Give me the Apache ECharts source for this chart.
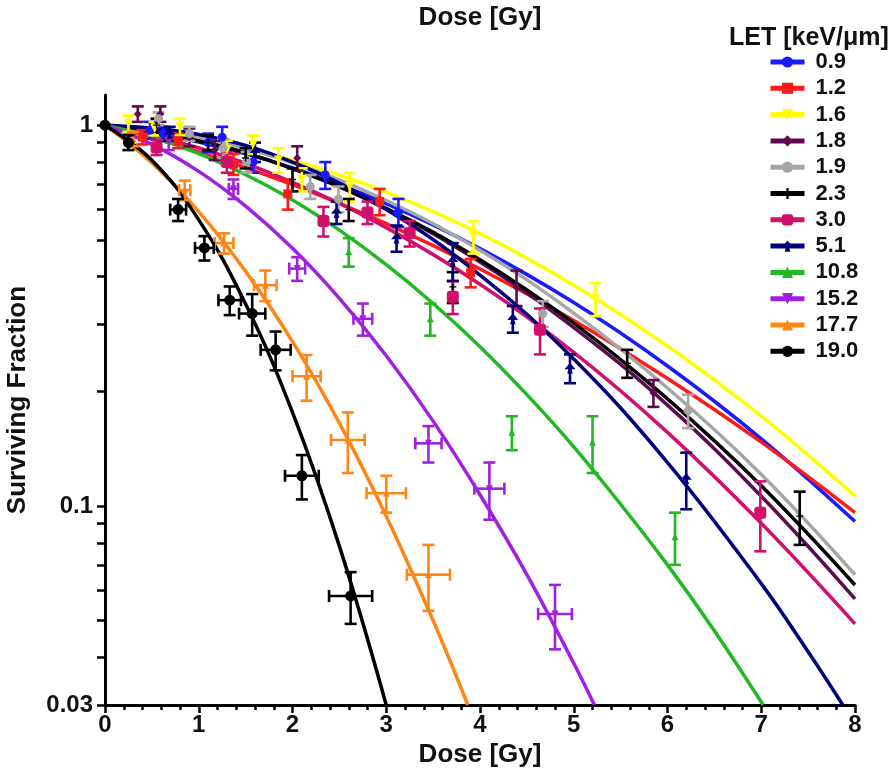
<!DOCTYPE html>
<html>
<head>
<meta charset="utf-8">
<script src="https://cdn.jsdelivr.net/npm/echarts@6/dist/echarts.min.js"></script>
<style>
  html, body { margin: 0; padding: 0; background: #ffffff; }
  #chart { width: 890px; height: 772px; }
</style>
</head>
<body>
<div id="chart"></div>
<script>
// LET groups (keV/µm)
const letNames = ['0.9', '1.2', '1.6', '1.8', '1.9', '2.3', '3.0', '5.1', '10.8', '15.2', '17.7', '19.0'];

// Tick labels
const xTickValues = [0, 1, 2, 3, 4, 5, 6, 7, 8];
const yLabelValues = [0.03, 0.1, 1];
const yTickValues = [0.03, 0.04, 0.05, 0.06, 0.07, 0.08, 0.09, 0.1, 0.2, 0.3, 0.4, 0.5, 0.6, 0.7, 0.8, 0.9, 1];

// Fitted survival curves: dose [Gy] and surviving fraction
const doseFull = [0, 1, 2, 3, 4, 5, 6, 7, 8];
const fit09 = [1, 0.903, 0.772, 0.622, 0.474, 0.342, 0.233, 0.150, 0.091];
const fit12 = [1, 0.851, 0.698, 0.551, 0.419, 0.307, 0.216, 0.147, 0.096];
const fit16 = [1, 0.926, 0.809, 0.667, 0.519, 0.380, 0.263, 0.172, 0.106];
const fit18 = [1, 0.911, 0.769, 0.602, 0.437, 0.294, 0.184, 0.106, 0.057];
const fit19 = [1, 0.926, 0.796, 0.634, 0.469, 0.321, 0.204, 0.121, 0.066];
const fit23 = [1, 0.909, 0.769, 0.605, 0.443, 0.302, 0.191, 0.113, 0.062];
const fit30 = [1, 0.871, 0.708, 0.538, 0.382, 0.253, 0.156, 0.090, 0.049];
const dose51 = [0, 1, 2, 3, 4, 5, 6, 7, 7.5, 7.87];
const fit51 = [1, 0.945, 0.800, 0.600, 0.404, 0.243, 0.130, 0.0625, 0.0414, 0.030];
const dose108 = [0, 0.5, 1, 1.5, 2, 2.5, 3, 3.5, 4, 4.5, 5, 5.5, 6, 6.5, 7.02];
const fit108 = [1, 0.930, 0.842, 0.741, 0.636, 0.530, 0.430, 0.340, 0.262, 0.196, 0.143, 0.101, 0.070, 0.047, 0.030];
const dose152 = [0, 0.5, 1, 1.5, 2, 2.5, 3, 3.5, 4, 4.5, 5, 5.22];
const fit152 = [1, 0.890, 0.756, 0.613, 0.475, 0.351, 0.248, 0.167, 0.107, 0.066, 0.0386, 0.030];
const dose177 = [0, 0.5, 1, 1.5, 2, 2.5, 3, 3.5, 3.87];
const fit177 = [1, 0.796, 0.593, 0.413, 0.270, 0.165, 0.094, 0.050, 0.030];
const dose190 = [0, 0.5, 1, 1.5, 2, 2.5, 3];
const fit190 = [1, 0.809, 0.564, 0.339, 0.176, 0.0784, 0.030];

// Measured points: [dose, surviving fraction, SF error, dose error]
const pts09 = [[0, 1, 0, 0], [0.48, 0.97, 0.05, 0], [0.62, 0.95, 0.04, 0], [1.1, 0.90, 0.05, 0], [1.25, 0.93, 0.06, 0], [1.58, 0.80, 0.05, 0], [2.35, 0.74, 0.06, 0], [3.13, 0.59, 0.05, 0]];
const pts12 = [[0.4, 0.93, 0.04, 0], [0.78, 0.91, 0.04, 0], [1.37, 0.79, 0.05, 0], [1.95, 0.66, 0.06, 0], [2.93, 0.63, 0.05, 0], [3.9, 0.41, 0.035, 0]];
const pts16 = [[0.25, 1.01, 0.05, 0], [0.53, 0.98, 0.04, 0], [0.8, 0.99, 0.05, 0], [1.3, 0.86, 0.05, 0], [1.58, 0.89, 0.05, 0], [1.85, 0.81, 0.06, 0], [2.1, 0.72, 0.05, 0], [2.61, 0.69, 0.06, 0], [3.93, 0.51, 0.05, 0], [5.23, 0.35, 0.035, 0]];
const pts18 = [[0.35, 1.07, 0.05, 0], [0.59, 1.07, 0.05, 0], [0.9, 0.93, 0.05, 0], [1.17, 0.86, 0.05, 0], [2.05, 0.82, 0.06, 0], [4.39, 0.375, 0.04, 0], [5.85, 0.198, 0.016, 0]];
const pts19 = [[0.57, 1.04, 0.04, 0], [0.9, 0.95, 0.04, 0], [1.26, 0.87, 0.05, 0], [1.51, 0.80, 0.05, 0], [2.19, 0.69, 0.05, 0], [2.49, 0.64, 0.05, 0], [4.67, 0.32, 0.025, 0], [6.22, 0.178, 0.018, 0]];
const pts23 = [[0.55, 1.0, 0.04, 0], [1.1, 0.9, 0.04, 0], [1.5, 0.82, 0.05, 0], [2.0, 0.72, 0.05, 0], [2.6, 0.60, 0.04, 0], [3.71, 0.376, 0.035, 0], [5.57, 0.237, 0.02, 0], [7.41, 0.094, 0.015, 0]];
const pts30 = [[0.55, 0.875, 0.04, 0], [1.3, 0.80, 0.05, 0], [2.33, 0.56, 0.05, 0], [2.8, 0.59, 0.04, 0], [3.25, 0.52, 0.04, 0], [3.71, 0.354, 0.035, 0], [4.64, 0.29, 0.04, 0], [6.99, 0.096, 0.02, 0]];
const pts51 = [[0.69, 0.95, 0.04, 0], [1.6, 0.85, 0.05, 0], [2.47, 0.59, 0.04, 0], [3.11, 0.505, 0.04, 0], [3.71, 0.44, 0.05, 0], [4.35, 0.31, 0.025, 0], [4.96, 0.23, 0.02, 0], [6.2, 0.118, 0.02, 0]];
const pts108 = [[2.6, 0.465, 0.04, 0], [3.47, 0.31, 0.03, 0], [4.34, 0.156, 0.016, 0], [5.2, 0.147, 0.025, 0], [6.08, 0.083, 0.013, 0]];
const pts152 = [[0.68, 0.90, 0.04, 0], [1.37, 0.68, 0.04, 0.05], [2.05, 0.42, 0.03, 0.085], [2.75, 0.31, 0.03, 0.1], [3.45, 0.146, 0.016, 0.14], [4.1, 0.111, 0.019, 0.16], [4.8, 0.052, 0.01, 0.18]];
const pts177 = [[0.3, 0.92, 0.04, 0], [0.85, 0.675, 0.04, 0.06], [1.27, 0.49, 0.03, 0.1], [1.71, 0.38, 0.035, 0.12], [2.15, 0.219, 0.03, 0.15], [2.59, 0.149, 0.027, 0.18], [3.0, 0.108, 0.012, 0.21], [3.45, 0.066, 0.013, 0.23]];
const pts190 = [[0, 1, 0, 0], [0.25, 0.9, 0.04, 0], [0.78, 0.6, 0.04, 0.085], [1.06, 0.476, 0.035, 0.1], [1.33, 0.347, 0.03, 0.12], [1.57, 0.32, 0.04, 0.14], [1.82, 0.257, 0.03, 0.16], [2.1, 0.12, 0.016, 0.18], [2.62, 0.058, 0.009, 0.23]];

const groups = [
  { name: letNames[0],  color: '#1a1aff', symbol: 'circle',   size: 9,  rotate: 0,   dose: doseFull, fit: fit09,  pts: pts09 },
  { name: letNames[1],  color: '#ff1a1a', symbol: 'rect',     size: 9,  rotate: 0,   dose: doseFull, fit: fit12,  pts: pts12 },
  { name: letNames[2],  color: '#ffff00', symbol: 'triangle', size: 9,  rotate: 180, dose: doseFull, fit: fit16,  pts: pts16 },
  { name: letNames[3],  color: '#5e0a50', symbol: 'diamond',  size: 8,  rotate: 0,   dose: doseFull, fit: fit18,  pts: pts18 },
  { name: letNames[4],  color: '#a6a6a6', symbol: 'circle',   size: 9,  rotate: 0,   dose: doseFull, fit: fit19,  pts: pts19 },
  { name: letNames[5],  color: '#000000', symbol: 'path://M4,0H6V4H10V6H6V10H4V6H0V4H4Z', size: 7, rotate: 0, dose: doseFull, fit: fit23, pts: pts23 },
  { name: letNames[6],  color: '#d0106a', symbol: 'roundRect', size: 12, rotate: 0,  dose: doseFull, fit: fit30,  pts: pts30 },
  { name: letNames[7],  color: '#00007e', symbol: 'path://M5,0L10,6H6.5L7.5,10H2.5L3.5,6H0Z', size: 11, rotate: 0, dose: dose51, fit: fit51, pts: pts51 },
  { name: letNames[8],  color: '#22b822', symbol: 'triangle', size: 7,  rotate: 0,   dose: dose108, fit: fit108, pts: pts108 },
  { name: letNames[9],  color: '#a020e0', symbol: 'triangle', size: 7,  rotate: 180, dose: dose152, fit: fit152, pts: pts152 },
  { name: letNames[10], color: '#ff8515', symbol: 'triangle', size: 7,  rotate: 0,   dose: dose177, fit: fit177, pts: pts177 },
  { name: letNames[11], color: '#000000', symbol: 'circle',   size: 11, rotate: 0,   dose: dose190, fit: fit190, pts: pts190 }
];

const FONT = '"Liberation Sans", Arial, Helvetica, sans-serif';

// Error bars with end caps, placed through the axis scales
function errorBarRenderer(color) {
  return function (params, api) {
    const d = api.value(0), s = api.value(1), es = api.value(2), ed = api.value(3);
    const c = api.coord([d, s]);
    const cap = 6;
    const style = { stroke: color, lineWidth: 2.6 };
    const seg = (x1, y1, x2, y2) => ({ type: 'line', shape: { x1, y1, x2, y2 }, style });
    const children = [];
    if (es > 0) {
      const t = api.coord([d, s + es]);
      const b = api.coord([d, Math.max(s - es, 1e-4)]);
      children.push(seg(c[0], t[1], c[0], b[1]), seg(c[0] - cap, t[1], c[0] + cap, t[1]), seg(c[0] - cap, b[1], c[0] + cap, b[1]));
    }
    if (ed > 0) {
      const l = api.coord([d - ed, s]);
      const r = api.coord([d + ed, s]);
      children.push(seg(l[0], c[1], r[0], c[1]), seg(l[0], c[1] - cap, l[0], c[1] + cap), seg(r[0], c[1] - cap, r[0], c[1] + cap));
    }
    return { type: 'group', children };
  };
}

const curveSeries = groups.map(g => ({
  name: g.name,
  type: 'line',
  data: g.dose.map((d, i) => [d, g.fit[i]]),
  smooth: 0.4,
  showSymbol: false,
  symbol: g.symbol,
  symbolSize: g.size,
  symbolRotate: g.rotate,
  lineStyle: { color: g.color, width: 3.5 },
  itemStyle: { color: g.color },
  emphasis: { disabled: true },
  z: 2
}));

const errorSeries = groups.map(g => ({
  name: g.name,
  type: 'custom',
  renderItem: errorBarRenderer(g.color),
  data: g.pts,
  encode: { x: 0, y: 1 },
  clip: false,
  z: 3
}));

const pointSeries = groups.map(g => ({
  name: g.name,
  type: 'scatter',
  data: g.pts.map(p => [p[0], p[1]]),
  symbol: g.symbol,
  symbolSize: g.size,
  symbolRotate: g.rotate,
  itemStyle: { color: g.color, opacity: 1 },
  emphasis: { disabled: true },
  z: 4
}));

const chart = echarts.init(document.getElementById('chart'), null, { renderer: 'canvas' });

chart.setOption({
  animation: false,
  backgroundColor: '#ffffff',
  title: {
    text: 'LET [keV/\u03bcm]',
    left: 724,
    top: 21,
    textStyle: { fontFamily: FONT, fontSize: 25, fontWeight: 'bold', color: '#111' }
  },
  legend: {
    orient: 'vertical',
    left: 763,
    top: 46,
    itemWidth: 34,
    itemHeight: 14,
    itemGap: 4.3,
    data: letNames,
    selectedMode: false,
    lineStyle: { width: 5 },
    textStyle: { fontFamily: FONT, fontSize: 22, fontWeight: 'bold', color: '#111', lineHeight: 22, padding: [0, 0, 0, 6] }
  },
  grid: { left: 105, right: 35, top: 95, bottom: 67, containLabel: false, outerBoundsMode: 'none' },
  xAxis: [
    {
      type: 'value',
      min: 0,
      max: 8,
      interval: 1,
      name: 'Dose [Gy]',
      nameLocation: 'middle',
      nameGap: 32,
      nameTextStyle: { fontFamily: FONT, fontSize: 26, fontWeight: 'bold', color: '#111' },
      axisLine: { show: true, onZero: false, lineStyle: { color: '#000', width: 3 } },
      axisTick: { show: true, inside: false, length: 8, lineStyle: { color: '#000', width: 2.5 }, customValues: xTickValues },
      minorTick: { show: true, splitNumber: 5, length: 5, lineStyle: { color: '#000', width: 2.5 } },
      axisLabel: { margin: 8, fontFamily: FONT, fontSize: 24, fontWeight: 'bold', color: '#111' },
      splitLine: { show: false }
    },
    {
      type: 'value',
      position: 'top',
      min: 0,
      max: 8,
      name: 'Dose [Gy]',
      nameLocation: 'middle',
      nameGap: 64,
      nameTextStyle: { fontFamily: FONT, fontSize: 26, fontWeight: 'bold', color: '#111' },
      axisLine: { show: false },
      axisTick: { show: false },
      axisLabel: { show: false },
      splitLine: { show: false }
    }
  ],
  yAxis: {
    type: 'log',
    logBase: 10,
    min: 0.03,
    max: 1.2,
    name: 'Surviving Fraction',
    nameLocation: 'middle',
    nameGap: 74,
    nameTextStyle: { fontFamily: FONT, fontSize: 26, fontWeight: 'bold', color: '#111' },
    axisLine: { show: true, lineStyle: { color: '#000', width: 3 } },
    axisTick: { show: true, inside: false, length: 8, lineStyle: { color: '#000', width: 2.5 }, customValues: yTickValues },
    axisLabel: {
      margin: 12,
      fontFamily: FONT, fontSize: 24, fontWeight: 'bold', color: '#111',
      customValues: yLabelValues,
      formatter: v => String(+(+v).toPrecision(3))
    },
    splitLine: { show: false }
  },
  series: [...curveSeries, ...errorSeries, ...pointSeries]
});
</script>
</body>
</html>
